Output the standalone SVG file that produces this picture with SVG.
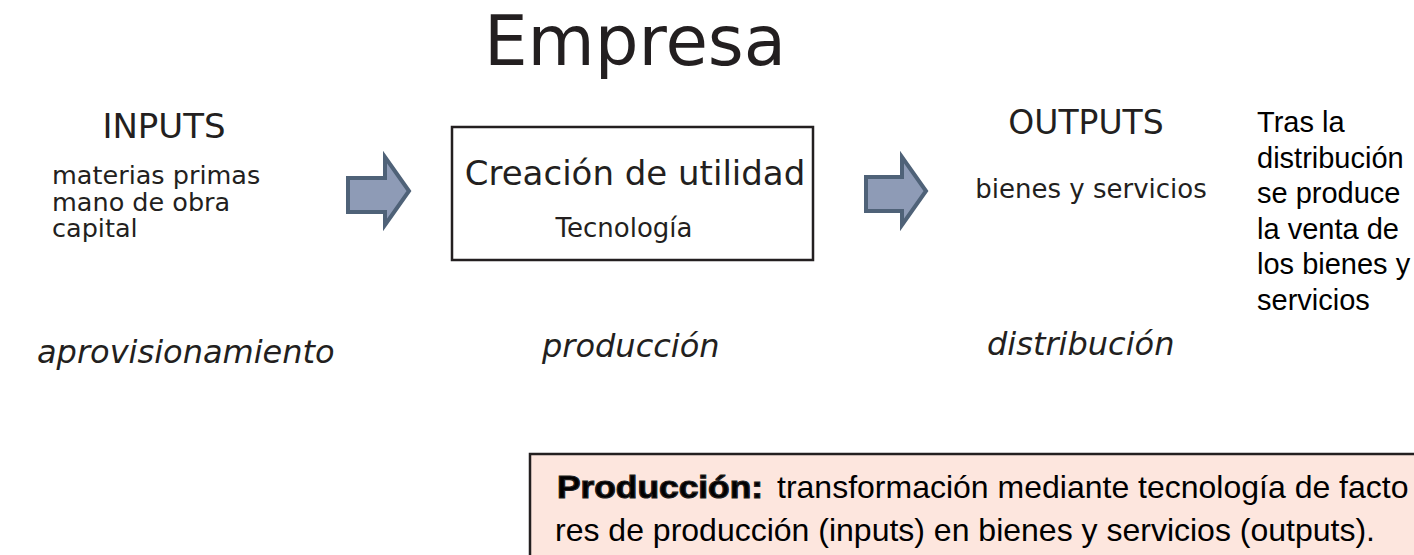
<svg xmlns="http://www.w3.org/2000/svg" width="1414" height="555" viewBox="0 0 1414 555">
<style>
.v{font-family:"DejaVu Sans",Verdana,sans-serif;fill:#231f20}
.vi{font-family:"DejaVu Sans",Verdana,sans-serif;font-style:italic;fill:#231f20;font-size:32px}
.a{font-family:"Liberation Sans",Arial,sans-serif;fill:#000}
.arrow{fill:#8e9bb6;stroke:#4f6278;stroke-width:4;stroke-linejoin:miter}
</style>
<rect width="1414" height="555" fill="#fff"/>
<g id="title"><text class="v" x="635" y="65" font-size="69" text-anchor="middle">Empresa</text></g>
<g id="inputs">
<text class="v" x="164" y="138" font-size="34" text-anchor="middle">INPUTS</text>
<text class="v" x="52" y="184" font-size="25.5">materias primas</text>
<text class="v" x="52" y="210.5" font-size="25.5">mano de obra</text>
<text class="v" x="52" y="237" font-size="25.5">capital</text>
</g>
<g id="produccion-box">
<rect x="452" y="127" width="361" height="133" fill="#fff" stroke="#231f20" stroke-width="2.5"/>
<text class="v" x="635" y="185" font-size="34" text-anchor="middle">Creación de utilidad</text>
<text class="v" x="624" y="237" font-size="26" text-anchor="middle">Tecnología</text>
</g>
<g id="outputs">
<text class="v" x="1086" y="134" font-size="33" text-anchor="middle">OUTPUTS</text>
<text class="v" x="1091" y="198" font-size="26" text-anchor="middle">bienes y servicios</text>
</g>
<g id="venta">
<text class="a" font-size="29"><tspan x="1257" y="132">Tras la</tspan><tspan x="1257" y="167.5">distribución</tspan><tspan x="1257" y="203">se produce</tspan><tspan x="1257" y="238.5">la venta de</tspan><tspan x="1257" y="274">los bienes y</tspan><tspan x="1257" y="309.5">servicios</tspan></text>
</g>
<g id="connectors">
<polygon class="arrow" points="348,178 385,178 385,157 409,191 385,225 385,212 348,212"/>
<polygon class="arrow" points="866,177 902,177 902,157 926,191 902,225 902,211 866,211"/>
</g>
<g id="stages">
<text class="vi" x="37" y="363">aprovisionamiento</text>
<text class="vi" x="542" y="357">producción</text>
<text class="vi" x="987" y="355">distribución</text>
</g>
<g id="definicion">
<rect x="530" y="454" width="900" height="120" fill="#fde6de" stroke="#231f20" stroke-width="2.5"/>
<text class="a" x="557" y="498" font-size="32" font-weight="900" fill="#231f20" stroke="#231f20" stroke-width="1.2" textLength="206" lengthAdjust="spacingAndGlyphs">Producción:</text>
<text class="a" x="777" y="498" font-size="32" fill="#231f20">transformación mediante tecnología de facto</text>
<text class="a" x="555" y="541" font-size="32" fill="#231f20">res de producción (inputs) en bienes y servicios (outputs).</text>
</g>
</svg>
